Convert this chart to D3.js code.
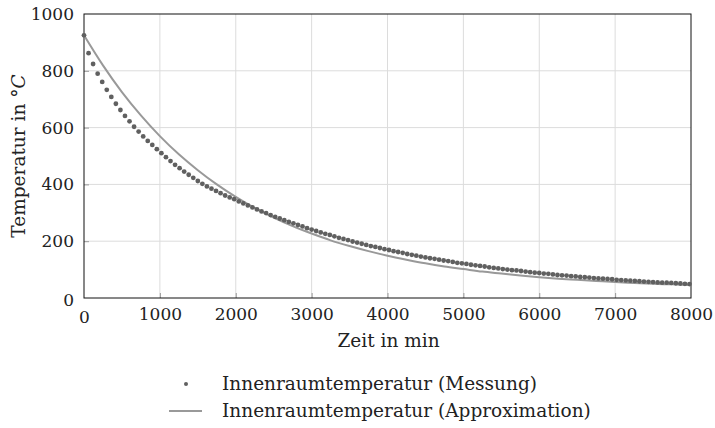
<!DOCTYPE html>
<html>
<head>
<meta charset="utf-8">
<script src="https://cdn.jsdelivr.net/npm/d3@7"></script>
<style>
body { margin: 0; background: #fff; }
text { font-family: "DejaVu Serif", "Liberation Serif", serif; fill: #222; }
</style>
</head>
<body>
<div id="chart"></div>
<script>
// measurement every 60 min
var messZeit = d3.range(0, 8040, 60);
var messTemp = [925,862,824,790,761,733,708,684,662,641,
  622,603,586,569,553,539,524,510,496,482,
  469,457,445,434,423,412,402,393,385,377,
  369,361,354,
  348,340,333,326,319,312,305,299,292,286,
  280,274,268,263,257,252,246,241,236,231,
  226,222,217,212,208,204,199,195,191,187,
  183,180,176,172,169,165,162,159,155,152,
  149,146,143,140,138,135,132,130,127,124,
  122,120,117,115,113,111,108,106,104,102,
  100,98,97,95,93,91,89,88,86,85,
  83,81,80,79,77,76,74,73,72,70,
  69,68,67,66,64,63,62,61,60,59,
  58,57,56,55,54,54,53,52,51,50,
  49];

var approxZeit = [0,250,500,750,1000,1250,1500,1750,2000,2250,2500,2750,3000,3250,3500,3750,
  4000,4250,4500,4750,5000,5250,5500,5750,6000,6250,6500,6750,7000,7250,7500,7750,8000];
var approxTemp = [925,819,725,643,570,506,450,400,356,317,283,253,227,203,183,165,
  149,135,122,111,102,93,86,79,73,68,64,60,56,53,50,48,46];

var xTicks = [0,1000,2000,3000,4000,5000,6000,7000,8000];
var yTicks = [0,200,400,600,800,1000];

var svgWidth = 715, svgHeight = 428;
var margin = {top: 14, right: 24, bottom: 130, left: 84};
var width = svgWidth - margin.left - margin.right;
var height = svgHeight - margin.top - margin.bottom;

var svg = d3.select("#chart").append("svg")
  .attr("width", svgWidth).attr("height", svgHeight);
var g = svg.append("g").attr("transform", `translate(${margin.left},${margin.top})`);

var xscale = d3.scaleLinear().domain([0, 8000]).range([0, width]);
var yscale = d3.scaleLinear().domain([0, 1000]).range([height, 0]);

// grid
g.append("g").selectAll("line").data(xTicks.slice(1, -1)).enter().append("line")
  .attr("x1", d => xscale(d)).attr("x2", d => xscale(d))
  .attr("y1", 0).attr("y2", height)
  .attr("stroke", "#dcdcdc").attr("stroke-width", 1);
g.append("g").selectAll("line").data(yTicks.slice(1, -1)).enter().append("line")
  .attr("y1", d => yscale(d)).attr("y2", d => yscale(d))
  .attr("x1", 0).attr("x2", width)
  .attr("stroke", "#dcdcdc").attr("stroke-width", 1);

// axes with inner ticks
var fmt = d3.format("d");
var xAxis = d3.axisBottom(xscale).tickValues(xTicks).tickFormat(fmt).tickSizeInner(-5).tickSizeOuter(0).tickPadding(10);
var yAxis = d3.axisLeft(yscale).tickValues(yTicks).tickFormat(fmt).tickSizeInner(-5).tickSizeOuter(0).tickPadding(10);

var gx = g.append("g").attr("transform", `translate(0,${height})`).call(xAxis);
var gy = g.append("g").call(yAxis);
[gx, gy].forEach(function(a) {
  a.attr("font-family", null);
  a.select(".domain").remove();
  a.selectAll("line").attr("stroke", "#999");
  a.selectAll("text").attr("font-size", "17px")
    .style("font-family", '"DejaVu Serif", serif').attr("fill", "#222");
});
gx.selectAll(".tick").filter(d => d == 0 || d == 8000).select("line").remove();
gy.selectAll(".tick").filter(d => d == 0 || d == 1000).select("line").remove();
gy.selectAll(".tick").filter(d => d == 0).select("text").attr("dy", "0.45em");
gx.selectAll(".tick").filter(d => d == 0).select("text").attr("dy", "0.9em");

// frame
g.append("rect").attr("width", width).attr("height", height)
  .attr("fill", "none").attr("stroke", "#111").attr("stroke-width", 1);

// approximation line
var line = d3.line().x((d, i) => xscale(approxZeit[i])).y(d => yscale(d)).curve(d3.curveMonotoneX);
g.append("path").datum(approxTemp)
  .attr("d", line).attr("fill", "none")
  .attr("stroke", "#999").attr("stroke-width", 2);

// measurement dots
g.selectAll("circle.m").data(messTemp).enter().append("circle")
  .attr("class", "m")
  .attr("cx", (d, i) => xscale(messZeit[i]))
  .attr("cy", d => yscale(d))
  .attr("r", 2.4)
  .attr("fill", "#606060");

// axis titles
svg.append("text").attr("x", margin.left + width / 2 + 1).attr("y", 347)
  .attr("text-anchor", "middle").attr("font-size", "18.5px").text("Zeit in min");

var yl = svg.append("text").attr("transform", "translate(25,156) rotate(-90)")
  .attr("text-anchor", "middle").attr("font-size", "18.5px");
yl.append("tspan").text("Temperatur in °");
yl.append("tspan").attr("font-style", "italic").text("C");

// legend
svg.append("circle").attr("cx", 186).attr("cy", 384).attr("r", 2).attr("fill", "#606060");
svg.append("text").attr("x", 222).attr("y", 390).attr("font-size", "18.5px")
  .text("Innenraumtemperatur (Messung)");
svg.append("line").attr("x1", 169).attr("x2", 202).attr("y1", 411).attr("y2", 411)
  .attr("stroke", "#999").attr("stroke-width", 2);
svg.append("text").attr("x", 222).attr("y", 417).attr("font-size", "18.5px")
  .text("Innenraumtemperatur (Approximation)");
</script>
</body>
</html>
